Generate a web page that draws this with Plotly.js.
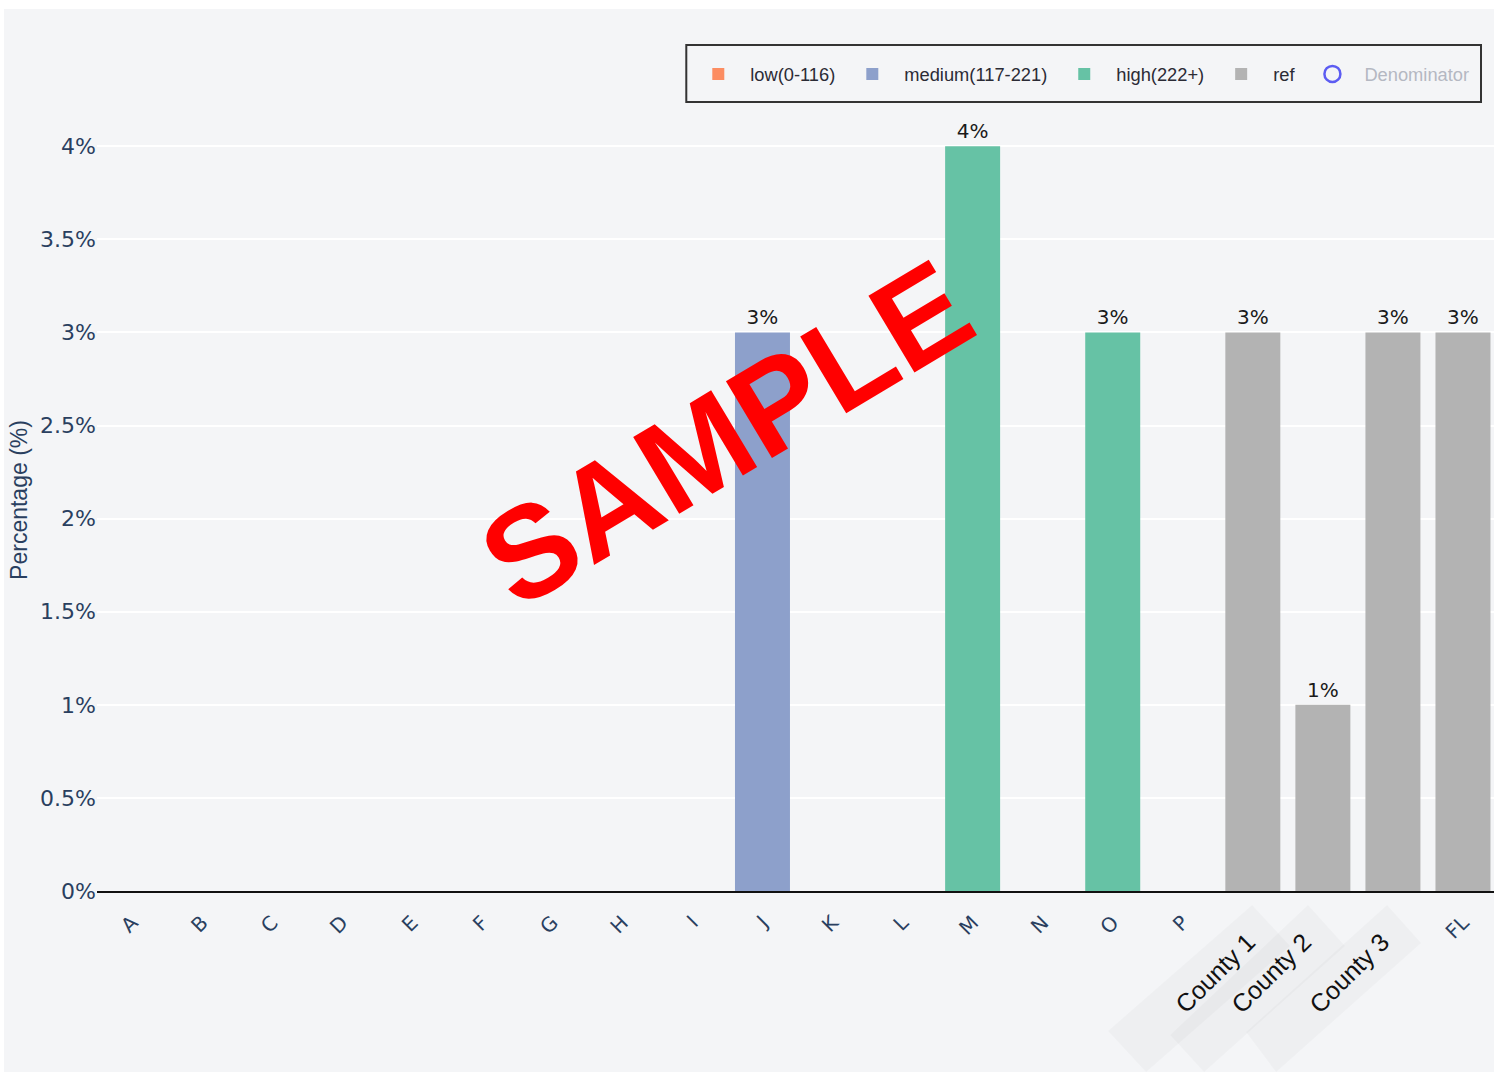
<!DOCTYPE html>
<html>
<head>
<meta charset="utf-8">
<script src="https://cdn.plot.ly/plotly-3.0.1.min.js"></script>
<style>
  html, body { margin: 0; padding: 0; background: #ffffff; width: 1498px; height: 1074px; overflow: hidden; }
  #wrap { position: absolute; left: 4px; top: 9px; width: 1490px; height: 1063px; overflow: hidden; background: #f4f5f7; }
  #chart { position: absolute; left: 0; top: 0; width: 1494px; height: 1063px; }
</style>
</head>
<body>
<div id="wrap"><div id="chart"></div></div>
<script>
// ---- data ----
const categories = ["A","B","C","D","E","F","G","H","I","J","K","L","M","N","O","P","County 1","County 2","County 3","FL"];
const lowCats = ["A","B","C","D","E","F","G","H","I","K","L","N","P"];
const lowValues = [null,null,null,null,null,null,null,null,null,null,null,null,null];
const mediumCats = ["J"];
const mediumValues = [3];
const highCats = ["M","O"];
const highValues = [4, 3];
const refCats = ["County 1","County 2","County 3","FL"];
const refValues = [3, 1, 3, 3];
const denominatorCats = ["J","M","O","County 1","County 2","County 3","FL"];
const denominatorValues = [null,null,null,null,null,null,null];
const yTickVals = [0, 0.5, 1, 1.5, 2, 2.5, 3, 3.5, 4];
const yTickText = ['0%', '0.5%', '1%', '1.5%', '2%', '2.5%', '3%', '3.5%', '4%'];

// ---- layout helpers ----
const OX = 4, OY = 9;               // page offset of the chart div
const W = 1494, H = 1063;
const M = {l: 92.5, r: 0, t: 100, b: 181};
const PW = W - M.l - M.r, PH = H - M.t - M.b;
function px(x) { return (x - OX - M.l) / PW; }
function py(y) { return (H - M.b - (y - OY)) / PH; }
function poly(pts) {
  return 'M ' + pts.map(p => px(p[0]).toFixed(4) + ' ' + py(p[1]).toFixed(4)).join(' L ') + ' Z';
}

const isCounty = c => c.startsWith('County');
const tickText = categories.map(c => isCounty(c) ? '' : c);

const barText = {
  texttemplate: '%{y:.0f}%',
  textposition: 'outside',
  cliponaxis: false,
  textfont: {family: 'DejaVu Sans', size: 20, color: '#1a1a1a'}
};

const traces = [
  Object.assign({type: 'bar', name: 'low(0-116)', x: lowCats, y: lowValues, marker: {color: '#fc8d62'}}, barText),
  Object.assign({type: 'bar', name: 'medium(117-221)', x: mediumCats, y: mediumValues, marker: {color: '#8da0cb'}}, barText),
  Object.assign({type: 'bar', name: 'high(222+)', x: highCats, y: highValues, marker: {color: '#66c2a5'}}, barText),
  Object.assign({type: 'bar', name: 'ref', x: refCats, y: refValues, marker: {color: '#b3b3b3'}}, barText),
  {type: 'scatter', mode: 'markers', name: '<span style="color:#b4b8c2">Denominator</span>',
   x: denominatorCats, y: denominatorValues,
   marker: {symbol: 'circle-open', size: 16, color: '#5c5cf2', line: {width: 2.5}}}
];

// County labels drawn as rotated annotations (positions from the category axis)
const countyShifts = [-38, -52, -44];
const countyAnnotations = categories.filter(isCounty).map((c, i) => ({
  text: c, xref: 'x', yref: 'paper', x: c, y: py(973),
  xanchor: 'center', yanchor: 'middle',
  xshift: countyShifts[i], showarrow: false, textangle: -45,
  font: {family: 'Liberation Sans, Arial', size: 25, color: '#111111'}
}));

const layout = {
  width: W, height: H,
  margin: M,
  paper_bgcolor: '#f4f5f7',
  plot_bgcolor: '#f4f5f7',
  barmode: 'overlay',
  bargap: 0.215,
  font: {family: 'DejaVu Sans', size: 20, color: '#2a3f5f'},
  showlegend: true,
  legend: {
    orientation: 'h',
    x: px(686), xanchor: 'left',
    y: py(74), yanchor: 'middle',
    bgcolor: 'rgba(0,0,0,0)',
    borderwidth: 0,
    font: {family: 'Liberation Sans, Arial', size: 18.3, color: '#2b2b35'},
    itemwidth: 54,
    traceorder: 'normal'
  },
  xaxis: {
    type: 'category',
    categoryorder: 'array',
    categoryarray: categories,
    tickmode: 'array',
    tickvals: categories,
    ticktext: tickText,
    tickangle: -45,
    ticklabelstandoff: 10,
    tickfont: {family: 'DejaVu Sans', size: 20, color: '#2a3f5f'},
    showline: true, linecolor: '#111111', linewidth: 2,
    showgrid: false,
    range: [-0.5, categories.length - 0.5]
  },
  yaxis: {
    range: [0, 4.2],
    tickmode: 'array',
    tickvals: yTickVals,
    ticktext: yTickText,
    tickfont: {family: 'DejaVu Sans', size: 22, color: '#2a3f5f'},
    gridcolor: '#ffffff', gridwidth: 1.5,
    zeroline: false,
    title: {text: 'Percentage (%)', font: {family: 'Liberation Sans, Arial', size: 23, color: '#2a3f5f'}, standoff: 6}
  },
  shapes: [
    {type: 'rect', xref: 'paper', yref: 'paper', layer: 'above',
     x0: px(686), x1: px(1481), y0: py(102), y1: py(45),
     line: {color: '#333333', width: 2}, fillcolor: 'rgba(0,0,0,0)'},
    {type: 'path', xref: 'paper', yref: 'paper', layer: 'below', line: {width: 0}, fillcolor: 'rgba(0,0,0,0.022)',
     path: poly([[1252, 905], [1290, 946], [1146, 1072], [1108, 1031]])},
    {type: 'path', xref: 'paper', yref: 'paper', layer: 'below', line: {width: 0}, fillcolor: 'rgba(0,0,0,0.022)',
     path: poly([[1308, 905], [1345, 946], [1204, 1072], [1170, 1035]])},
    {type: 'path', xref: 'paper', yref: 'paper', layer: 'below', line: {width: 0}, fillcolor: 'rgba(0,0,0,0.022)',
     path: poly([[1387, 905], [1421, 943], [1276, 1072], [1246, 1032]])}
  ],
  annotations: countyAnnotations.concat([
    {text: '<b>SAMPLE</b>', xref: 'paper', yref: 'paper', x: px(726), y: py(433),
     xanchor: 'center', yanchor: 'middle',
     showarrow: false, textangle: -31,
     font: {family: 'Liberation Sans, Arial', size: 130, color: '#ff0000'}}
  ])
};

Plotly.newPlot('chart', traces, layout, {displayModeBar: false, responsive: false});
</script>
</body>
</html>
